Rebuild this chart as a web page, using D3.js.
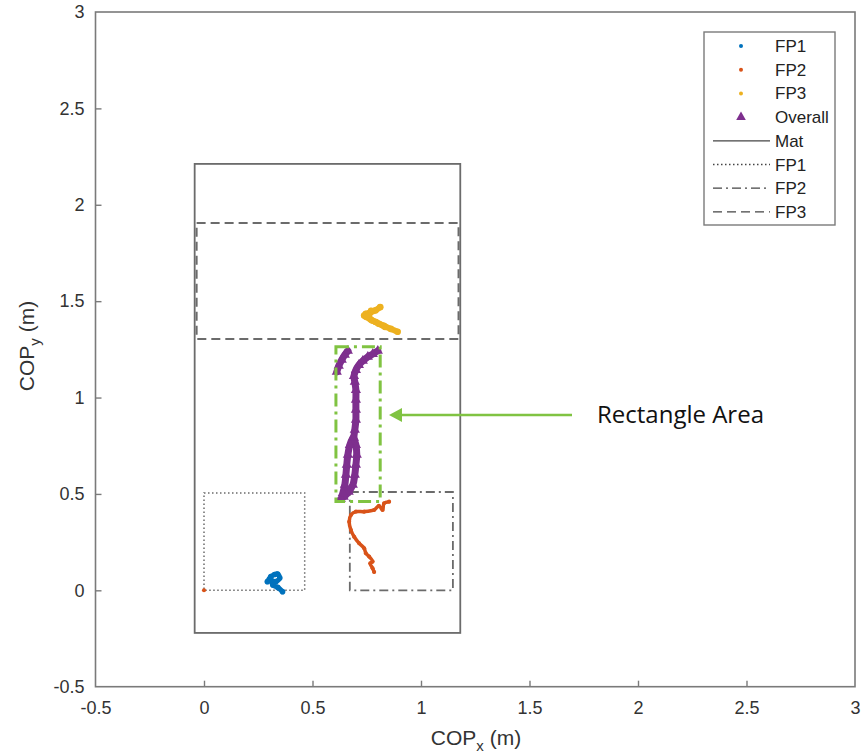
<!DOCTYPE html>
<html>
<head>
<meta charset="utf-8">
<script src="https://cdn.jsdelivr.net/npm/d3@7"></script>
<style>
  body { margin: 0; background: #fff; }
  svg { display: block; font-family: "Liberation Sans", Arial, sans-serif; }
</style>
</head>
<body>
<svg id="chart" width="862" height="755"></svg>
<script>
// Axis ranges and tick values (metres)
const xDomain = [-0.5, 3];
const yDomain = [-0.5, 3];
const xTicks = [-0.5, 0, 0.5, 1, 1.5, 2, 2.5, 3];
const yTicks = [-0.5, 0, 0.5, 1, 1.5, 2, 2.5, 3];

// Plate outlines: [xMin, xMax, yMin, yMax]
const matBox = [-0.043, 1.181, -0.221, 2.212];
const fp1Box = [0, 0.464, 0, 0.505];
const fp2Box = [0.672, 1.147, 0, 0.51];
const fp3Box = [-0.034, 1.173, 1.304, 1.905];
const rectArea = [0.608, 0.812, 0.461, 1.263];

// Centre-of-pressure traces, each a list of continuous segments of [x, y]
const fp1Trace = [[
  [0.292, 0.045], [0.308, 0.071], [0.325, 0.082], [0.339, 0.085], [0.349, 0.064],
  [0.331, 0.045], [0.312, 0.049], [0.317, 0.028], [0.340, 0.015], [0.362, -0.007]
]];
const fp2Trace = [
  [[0, 0]],
  [[0.853, 0.460], [0.830, 0.452], [0.823, 0.417], [0.806, 0.438], [0.784, 0.417],
   [0.738, 0.408], [0.700, 0.408], [0.677, 0.391], [0.669, 0.356], [0.677, 0.313],
   [0.692, 0.278], [0.715, 0.244], [0.738, 0.218], [0.746, 0.192], [0.761, 0.175],
   [0.777, 0.149], [0.766, 0.140], [0.777, 0.114], [0.784, 0.095]]
];
const fp3Trace = [
  [[0.812, 1.469], [0.790, 1.452], [0.765, 1.440], [0.746, 1.435], [0.738, 1.425]],
  [[0.770, 1.450], [0.760, 1.425], [0.768, 1.405], [0.792, 1.392], [0.829, 1.372],
   [0.861, 1.356], [0.892, 1.341]],
  [[0.748, 1.418], [0.775, 1.400], [0.805, 1.383], [0.835, 1.366]]
];
const overallTrace = [
  [[0.612, 1.133], [0.621, 1.164], [0.635, 1.196], [0.649, 1.222], [0.663, 1.242]],
  [[0.801, 1.242], [0.778, 1.226], [0.755, 1.211], [0.732, 1.190], [0.714, 1.169],
   [0.700, 1.143], [0.691, 1.112], [0.695, 1.081], [0.700, 1.039], [0.700, 0.988],
   [0.700, 0.936], [0.700, 0.884], [0.695, 0.832], [0.691, 0.791], [0.700, 0.754],
   [0.704, 0.703], [0.700, 0.651], [0.695, 0.599], [0.686, 0.547], [0.667, 0.511],
   [0.644, 0.485], [0.630, 0.474]],
  [[0.686, 0.791], [0.672, 0.754], [0.663, 0.703], [0.658, 0.651], [0.654, 0.599],
   [0.649, 0.547], [0.640, 0.505]]
];

const legendLabels = ["FP1", "FP2", "FP3", "Overall", "Mat", "FP1", "FP2", "FP3"];
const annotationText = "Rectangle Area";

const colors = { fp1: "#0072BD", fp2: "#D95319", fp3: "#EDB120", overall: "#7E2F8E", green: "#80C342", frame: "#6b6b6b" };

const svg = d3.select("#chart");
const x = d3.scaleLinear().domain(xDomain).range([95.5, 855]);
const y = d3.scaleLinear().domain(yDomain).range([686.7, 12]);

// Axes box
const axisColor = "#7a7a7a";
svg.append("rect")
  .attr("x", x(xDomain[0])).attr("y", y(yDomain[1]))
  .attr("width", x(xDomain[1]) - x(xDomain[0]))
  .attr("height", y(yDomain[0]) - y(yDomain[1]))
  .attr("fill", "none").attr("stroke", axisColor).attr("stroke-width", 1.6);

const fmt = d => String(d);
const xAxis = svg.append("g").attr("transform", `translate(0,${y(yDomain[0])})`)
  .call(d3.axisBottom(x).tickValues(xTicks).tickFormat(fmt).tickSizeInner(-6).tickSizeOuter(0).tickPadding(15));
const yAxis = svg.append("g").attr("transform", `translate(${x(xDomain[0])},0)`)
  .call(d3.axisLeft(y).tickValues(yTicks).tickFormat(fmt).tickSizeInner(-6).tickSizeOuter(0).tickPadding(11));
[xAxis, yAxis].forEach(g => {
  g.attr("font-family", null).attr("font-size", null);
  g.select(".domain").remove();
  g.selectAll(".tick line").attr("stroke", axisColor).attr("stroke-width", 1.4);
  g.selectAll(".tick text").attr("fill", "#333").attr("font-size", 18);
});
// edge ticks sit on the box itself
xAxis.selectAll(".tick").filter(d => d === xDomain[0] || d === xDomain[1]).select("line").remove();
yAxis.selectAll(".tick").filter(d => d === yDomain[0] || d === yDomain[1]).select("line").remove();

// Axis titles with subscripts
const xt = svg.append("text").attr("x", 476).attr("y", 745).attr("text-anchor", "middle")
  .attr("font-size", 21).attr("fill", "#333");
xt.append("tspan").text("COP");
xt.append("tspan").attr("font-size", 15).attr("dy", 6).text("x");
xt.append("tspan").attr("dy", -6).text(" (m)");

const yt = svg.append("text").attr("transform", "translate(34,346) rotate(-90)").attr("text-anchor", "middle")
  .attr("font-size", 21).attr("fill", "#333");
yt.append("tspan").text("COP");
yt.append("tspan").attr("font-size", 15).attr("dy", 6).text("y");
yt.append("tspan").attr("dy", -6).text(" (m)");

// Plate outlines
function box(b, dash, color, width) {
  return svg.append("rect")
    .attr("x", x(b[0])).attr("y", y(b[3]))
    .attr("width", x(b[1]) - x(b[0])).attr("height", y(b[2]) - y(b[3]))
    .attr("fill", "none").attr("stroke", color).attr("stroke-width", width)
    .attr("stroke-dasharray", dash);
}
const dotted = "1.5 2.5", dashDot = "9 4 2 4", dashed = "9 5";
box(matBox, null, colors.frame, 1.8);
box(fp1Box, dotted, colors.frame, 1.5);
box(fp2Box, dashDot, colors.frame, 1.8);
box(fp3Box, dashed, colors.frame, 2);

// Traces
const line = d3.line().x(d => x(d[0])).y(d => y(d[1])).curve(d3.curveCatmullRom);
function trace(segs, color, width, marker) {
  const g = svg.append("g");
  segs.forEach(seg => {
    if (seg.length > 1) {
      g.append("path").attr("d", line(seg)).attr("fill", "none").attr("stroke", color)
        .attr("stroke-width", width).attr("stroke-linecap", "round").attr("stroke-linejoin", "round");
    }
    seg.forEach(p => {
      if (marker === "tri") {
        g.append("path").attr("d", d3.symbol(d3.symbolTriangle, 45)())
          .attr("transform", `translate(${x(p[0])},${y(p[1])})`).attr("fill", color);
      } else {
        g.append("circle").attr("cx", x(p[0])).attr("cy", y(p[1])).attr("r", width / 2 + 0.3).attr("fill", color);
      }
    });
  });
}
trace(fp1Trace, colors.fp1, 5, "dot");
trace(fp2Trace, colors.fp2, 3.5, "dot");
trace(fp3Trace, colors.fp3, 6, "dot");
trace(overallTrace, colors.overall, 7, "tri");

// Rectangle area outline and callout
box(rectArea, "13 5 3 5", colors.green, 3);
const ay = 415;
svg.append("line").attr("x1", 572).attr("y1", ay).attr("x2", 400).attr("y2", ay)
  .attr("stroke", colors.green).attr("stroke-width", 2.5);
svg.append("path").attr("d", `M389,${ay} L402,${ay - 7} L402,${ay + 7} Z`).attr("fill", colors.green);
svg.append("text").attr("x", 597).attr("y", ay + 8).attr("font-size", 24)
  .style("font-family", "'Open Sans', 'Noto Sans', sans-serif").attr("fill", "#111").text(annotationText);

// Legend
const lg = svg.append("g");
lg.append("rect").attr("x", 704).attr("y", 32).attr("width", 131).attr("height", 193)
  .attr("fill", "#fff").attr("stroke", axisColor).attr("stroke-width", 1.4);
const rowY = i => 46 + i * 23.7;
const legendMarks = [
  { type: "dot", color: colors.fp1 }, { type: "dot", color: colors.fp2 },
  { type: "dot", color: colors.fp3 }, { type: "tri", color: colors.overall },
  { type: "line", dash: null }, { type: "line", dash: dotted },
  { type: "line", dash: dashDot }, { type: "line", dash: dashed }
];
legendLabels.forEach((lab, i) => {
  const m = legendMarks[i], cy = rowY(i);
  if (m.type === "dot") {
    lg.append("circle").attr("cx", 741).attr("cy", cy).attr("r", 2).attr("fill", m.color);
  } else if (m.type === "tri") {
    lg.append("path").attr("d", d3.symbol(d3.symbolTriangle, 40)()).attr("transform", `translate(741,${cy})`).attr("fill", m.color);
  } else {
    lg.append("line").attr("x1", 713).attr("x2", 770).attr("y1", cy).attr("y2", cy)
      .attr("stroke", "#444").attr("stroke-width", 1.3).attr("stroke-dasharray", m.dash);
  }
  lg.append("text").attr("x", 775).attr("y", cy + 6).attr("font-size", 17).attr("fill", "#222").text(lab);
});
</script>
</body>
</html>
